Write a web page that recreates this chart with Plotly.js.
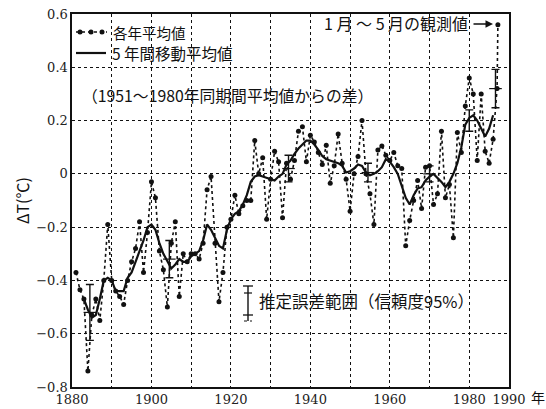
<!DOCTYPE html>
<html>
<head>
<meta charset="utf-8">
<script src="https://cdn.plot.ly/plotly-3.0.1.min.js"></script>
<style>html,body{margin:0;padding:0;background:#fff;}#chart{width:546px;height:409px;}</style>
</head>
<body>
<div id="chart"></div>
<script>
// ---- data ----
const annualYears = [
  1881,1882,1883,1884,1885,1886,1887,1888,1889,1890,
  1891,1892,1893,1894,1895,1896,1897,1898,1899,1900,
  1901,1902,1903,1904,1905,1906,1907,1908,1909,1910,
  1911,1912,1913,1914,1915,1916,1917,1918,1919,1920,
  1921,1922,1923,1924,1925,1926,1927,1928,1929,1930,
  1931,1932,1933,1934,1935,1936,1937,1938,1939,1940,
  1941,1942,1943,1944,1945,1946,1947,1948,1949,1950,
  1951,1952,1953,1954,1955,1956,1957,1958,1959,1960,
  1961,1962,1963,1964,1965,1966,1967,1968,1969,1970,
  1971,1972,1973,1974,1975,1976,1977,1978,1979,1980,
  1981,1982,1983,1984,1985,1986,1987
];
const annualValues = [
  -0.37,-0.435,-0.47,-0.74,-0.53,-0.47,-0.55,-0.40,-0.19,-0.40,
  -0.44,-0.46,-0.49,-0.40,-0.33,-0.28,-0.18,-0.37,-0.22,-0.03,
  -0.09,-0.29,-0.36,-0.50,-0.26,-0.18,-0.46,-0.30,-0.33,-0.30,
  -0.30,-0.32,-0.26,-0.06,-0.01,-0.26,-0.48,-0.37,-0.20,-0.17,
  -0.08,-0.15,-0.12,-0.10,-0.10,0.125,0.00,0.06,-0.17,-0.02,
  0.085,0.045,-0.165,0.04,-0.02,0.05,0.16,0.177,0.045,0.145,
  0.12,0.08,0.035,0.107,-0.035,0.03,0.15,0.04,-0.02,-0.14,
  0.00,0.065,0.20,0.00,-0.075,-0.19,0.09,0.105,0.07,0.05,
  0.08,0.03,0.02,-0.27,-0.175,-0.10,-0.025,-0.13,0.025,0.03,
  -0.115,-0.075,0.16,-0.09,-0.04,-0.24,0.155,0.08,0.255,0.36,
  0.30,0.05,0.30,0.085,0.04,0.13,0.32
];
// Jan-May 1988 observation
const janMayX = [1987.2];
const janMayY = [0.56];

const smoothYears = [
  1883,1884,1885,1886,1887,1888,1889,1890,
  1891,1892,1893,1894,1895,1896,1897,1898,1899,1900,
  1901,1902,1903,1904,1905,1906,1907,1908,1909,1910,
  1911,1912,1913,1914,1915,1916,1917,1918,1919,1920,
  1921,1922,1923,1924,1925,1926,1927,1928,1929,1930,
  1931,1932,1933,1934,1935,1936,1937,1938,1939,1940,
  1941,1942,1943,1944,1945,1946,1947,1948,1949,1950,
  1951,1952,1953,1954,1955,1956,1957,1958,1959,1960,
  1961,1962,1963,1964,1965,1966,1967,1968,1969,1970,
  1971,1972,1973,1974,1975,1976,1977,1978,1979,1980,
  1981,1982,1983,1984,1985,1986
];
const smoothValues = [
  -0.47,-0.51,-0.54,-0.53,-0.47,-0.40,-0.39,-0.40,
  -0.44,-0.44,-0.44,-0.39,-0.37,-0.33,-0.29,-0.25,-0.20,-0.19,
  -0.21,-0.26,-0.30,-0.33,-0.355,-0.34,-0.32,-0.33,-0.33,-0.31,
  -0.30,-0.29,-0.25,-0.19,-0.21,-0.24,-0.27,-0.28,-0.21,-0.17,
  -0.15,-0.14,-0.115,-0.08,-0.03,-0.01,-0.005,-0.01,-0.015,-0.02,
  -0.025,-0.01,0.00,0.035,0.05,0.075,0.095,0.11,0.125,0.125,
  0.11,0.09,0.067,0.055,0.05,0.045,0.04,0.03,0.005,0.01,
  0.02,0.035,0.03,0.005,-0.005,0.00,0.01,0.025,0.055,0.045,
  0.025,0.00,-0.045,-0.09,-0.115,-0.08,-0.055,-0.05,-0.025,-0.01,
  0.00,-0.015,-0.03,-0.05,-0.03,0.00,0.04,0.10,0.185,0.21,
  0.22,0.20,0.17,0.14,0.17,0.22
];

// estimated error ranges (95%)
const errYears = [1884.5, 1904.5, 1934.5, 1954.5, 1970, 1980, 1986.6];
const errCenter = [-0.52, -0.32, 0.02, 0.005, 0.0, 0.2, 0.32];
const errHalf = [0.105, 0.07, 0.05, 0.035, 0.03, 0.04, 0.072];

const xTickVals = [1880,1890,1900,1910,1920,1930,1940,1950,1960,1970,1980,1990];
const xTickText = ['1880','','1900','','1920','','1940','','1960','','1980','1990'];

// ---- labels ----
const txtAnnual = '各年平均値';
const txtSmooth = '5 年間移動平均値';
const txtBase = '（1951～1980年同期間平均値からの差）';
const txtObs = '1 月 ～ 5 月の観測値';
const txtErr = '推定誤差範囲（信頼度95%）';
const txtYear = '年';
const txtYTitle = 'ΔT(℃)';

const CJK = '"Noto Sans CJK JP", sans-serif';
const SERIF = '"DejaVu Serif", "Liberation Serif", serif';
const INK = '#111';

const traces = [
  {
    x: annualYears.concat(janMayX),
    y: annualValues.concat(janMayY),
    type: 'scatter', mode: 'lines+markers',
    line: {color: INK, width: 1.6, dash: 'dot'},
    marker: {color: INK, size: 5},
    showlegend: false, hoverinfo: 'skip'
  },
  {
    x: smoothYears, y: smoothValues,
    type: 'scatter', mode: 'lines',
    line: {color: INK, width: 2.2},
    showlegend: false, hoverinfo: 'skip'
  },
  {
    x: errYears, y: errCenter,
    type: 'scatter', mode: 'markers',
    marker: {symbol: 'line-ew-open', size: 9, color: INK, line: {width: 1.2, color: INK}},
    error_y: {type: 'data', array: errHalf, visible: true, color: INK, thickness: 1.4, width: 4},
    showlegend: false, hoverinfo: 'skip'
  }
];

// pixel -> paper helpers (plot area 72..509 x 14..387)
const px = v => (v - 72) / 437;
const py = v => (387 - v) / 373;

const shapes = [
  {type:'line', xref:'paper', yref:'paper', x0:px(76), x1:px(107), y0:py(32), y1:py(32),
   line:{color:INK, width:1.6, dash:'dot'}},
  {type:'line', xref:'paper', yref:'paper', x0:px(76), x1:px(106), y0:py(53), y1:py(53),
   line:{color:INK, width:2.2}},
  {type:'line', xref:'paper', yref:'paper', x0:px(248), x1:px(248), y0:py(286), y1:py(321),
   line:{color:INK, width:1.4}},
  {type:'line', xref:'paper', yref:'paper', x0:px(243), x1:px(253), y0:py(286), y1:py(286),
   line:{color:INK, width:1.3}},
  {type:'line', xref:'paper', yref:'paper', x0:px(244), x1:px(252), y0:py(293), y1:py(293),
   line:{color:INK, width:1.2}},
  {type:'line', xref:'paper', yref:'paper', x0:px(243), x1:px(253), y0:py(315), y1:py(315),
   line:{color:INK, width:1.3}},
  {type:'line', xref:'paper', yref:'paper', x0:px(244), x1:px(252), y0:py(321), y1:py(321),
   line:{color:INK, width:1, dash:'dot'}}
];
[80, 91, 102].forEach(cx => {
  shapes.push({type:'circle', xref:'paper', yref:'paper', xsizemode:'pixel', ysizemode:'pixel',
    xanchor:px(cx), yanchor:py(32), x0:-2.5, x1:2.5, y0:-2.5, y1:2.5,
    fillcolor:INK, line:{color:INK, width:0}});
});

const fnt = s => ({family: CJK, size: s, color: INK});
const annotations = [
  {xref:'paper', yref:'paper', x:px(111), y:py(32), text:txtAnnual, showarrow:false,
   xanchor:'left', yanchor:'middle', font:fnt(14.5)},
  {xref:'paper', yref:'paper', x:px(110), y:py(53), text:txtSmooth, showarrow:false,
   xanchor:'left', yanchor:'middle', font:fnt(15.5)},
  {xref:'paper', yref:'paper', x:px(80), y:py(95), text:txtBase, showarrow:false,
   xanchor:'left', yanchor:'middle', font:fnt(15.8)},
  {xref:'paper', yref:'paper', x:px(470), y:py(23), text:txtObs, showarrow:false,
   xanchor:'right', yanchor:'middle', font:fnt(16)},
  {xref:'paper', yref:'paper', x:px(493), y:py(24), ax:-21, ay:0, text:'', showarrow:true,
   arrowhead:2, arrowsize:1, arrowwidth:1.5, arrowcolor:INK},
  {xref:'paper', yref:'paper', x:px(257), y:py(301), text:txtErr, showarrow:false,
   xanchor:'left', yanchor:'middle', font:fnt(16.5)},
  {xref:'paper', yref:'paper', x:px(538), y:py(397), text:txtYear, showarrow:false,
   xanchor:'center', yanchor:'middle', font:fnt(14)}
];

const axisCommon = {
  showgrid: true, gridcolor: INK, gridwidth: 1, griddash: 'dot',
  showline: true, linecolor: INK, linewidth: 1.6, mirror: true,
  ticks: '', zeroline: false,
  tickfont: {family: SERIF, size: 13, color: '#222'}
};

const layout = {
  width: 546, height: 409,
  margin: {l: 72, r: 37, t: 14, b: 22},
  paper_bgcolor: '#fff', plot_bgcolor: '#fff',
  xaxis: Object.assign({}, axisCommon, {
    range: [1880, 1990], tickmode: 'array', tickvals: xTickVals, ticktext: xTickText
  }),
  yaxis: Object.assign({}, axisCommon, {
    range: [-0.8, 0.6], tick0: 0, dtick: 0.2,
    title: {text: txtYTitle, font: {family: CJK, size: 16, color: INK}, standoff: 2}
  }),
  shapes: shapes,
  annotations: annotations,
  showlegend: false
};

Plotly.newPlot('chart', traces, layout, {displayModeBar: false, staticPlot: true});
</script>
</body>
</html>
